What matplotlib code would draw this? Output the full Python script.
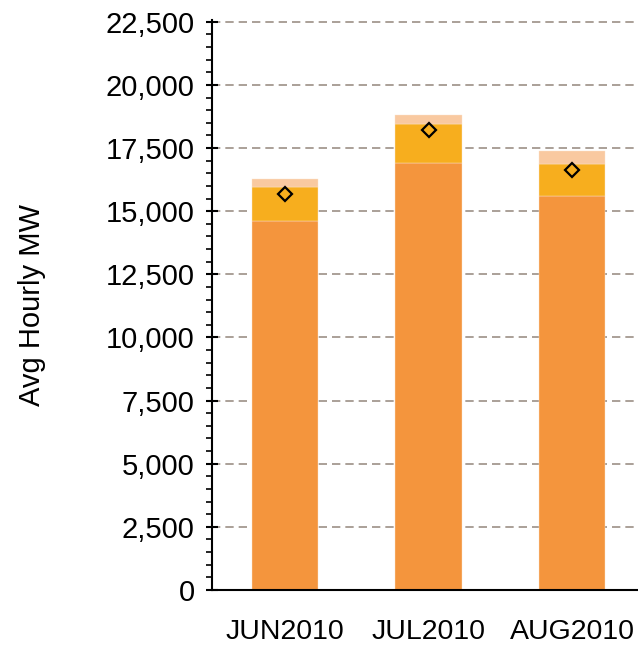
import numpy as np
import matplotlib
matplotlib.use("Agg")
import matplotlib.pyplot as plt
from matplotlib.ticker import FuncFormatter, MultipleLocator

# data
months = ["JUN2010", "JUL2010", "AUG2010"]
base_mw = [14600, 16890, 15610]
mid_top = [15950, 18460, 16880]
upper_top = [16270, 18800, 17370]
avg_mw = [15680, 18210, 16630]

plt.rcParams["font.family"] = ["Liberation Sans", "DejaVu Sans"]

fig = plt.figure(figsize=(6.38, 6.46), dpi=100)
ax = fig.add_axes([0.3323, 0.0867, 0.6677, 0.882])

x = np.arange(len(months))
width = 0.46
base = np.array(base_mw)
mid = np.array(mid_top) - base
upper = np.array(upper_top) - np.array(mid_top)

ax.bar(x, base, width, color="#F4953D", edgecolor="#FBE3CC", linewidth=0.3, zorder=2)
ax.bar(x, mid, width, bottom=base, color="#F7AE1E", edgecolor="#FBE3CC", linewidth=0.3, zorder=2)
ax.bar(x, upper, width, bottom=np.array(mid_top), color="#F9C9A0", edgecolor="#FBE3CC",
       linewidth=0.3, zorder=2)
ax.plot(x, avg_mw, linestyle="none", marker="D", markersize=7.5, markerfacecolor="none",
        markeredgecolor="black", markeredgewidth=1.6, zorder=3)

ax.set_xlim(-0.507, 2.458)
ax.set_ylim(0, 22560)
ax.yaxis.set_major_locator(MultipleLocator(2500))
ax.yaxis.set_minor_locator(MultipleLocator(500))
ax.yaxis.set_major_formatter(FuncFormatter(lambda v, p: f"{int(v):,}"))
ax.set_xticks(x)
ax.set_xticklabels(months)

ax.grid(axis="y", color="#9C9086", linestyle=(0, (5, 3)), linewidth=1.2, zorder=1)
ax.set_axisbelow(True)

for s in ["top", "right"]:
    ax.spines[s].set_visible(False)
ax.spines["left"].set_linewidth(1.5)
ax.spines["bottom"].set_linewidth(1.5)

ax.tick_params(axis="y", which="major", direction="inout", length=9, width=1.5,
               labelsize=21, pad=8)
ax.tick_params(axis="y", which="minor", direction="out", length=4, width=1.2)
ax.tick_params(axis="x", length=0, labelsize=20.5, pad=21)
ax.set_ylabel("Avg Hourly MW", fontsize=21, labelpad=43)

fig.savefig("out.png", dpi=100)
